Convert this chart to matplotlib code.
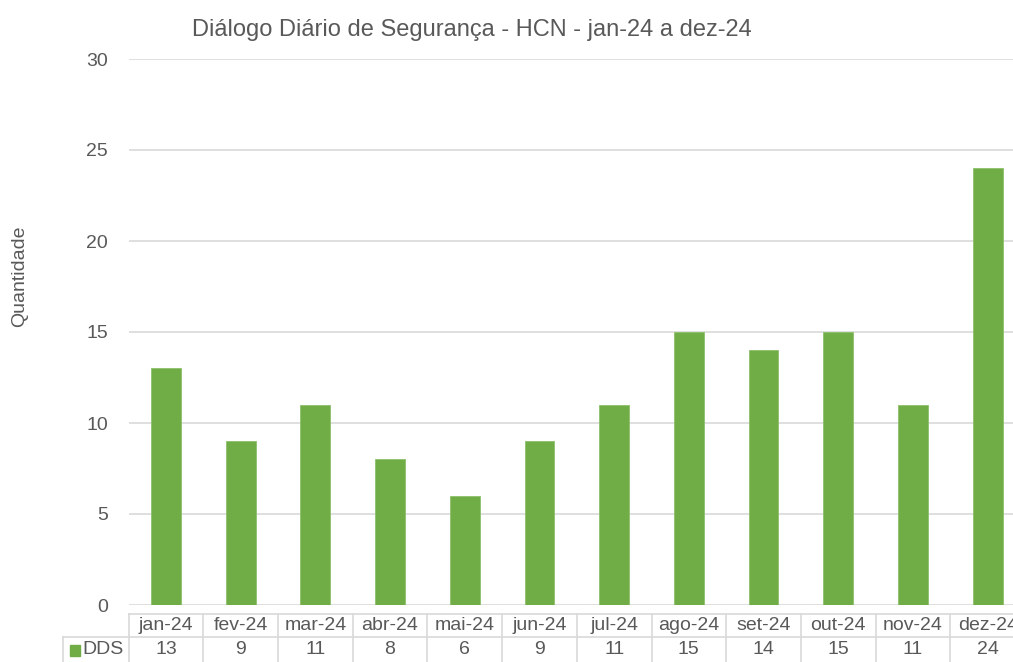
import matplotlib
matplotlib.use("Agg")
import matplotlib.pyplot as plt
from matplotlib.transforms import blended_transform_factory
from matplotlib.lines import Line2D
from matplotlib.patches import Rectangle

months = ["jan-24", "fev-24", "mar-24", "abr-24", "mai-24", "jun-24",
          "jul-24", "ago-24", "set-24", "out-24", "nov-24", "dez-24"]
dds = [13, 9, 11, 8, 6, 9, 11, 15, 14, 15, 11, 24]
series_name = "DDS"
title = "Diálogo Diário de Segurança - HCN - jan-24 a dez-24"
ylabel = "Quantidade"
yticks = [0, 5, 10, 15, 20, 25, 30]

plt.rcParams['font.family'] = ['Liberation Sans', 'DejaVu Sans']
TXT = "#595959"
GRID = "#d9d9d9"
GREEN = "#70ad47"
FS = 14

W, H = 1013, 662
fig = plt.figure(figsize=(W / 100, H / 100), dpi=100)

def fx(px):
    return px / W

def fy(py):
    return 1 - py / H

left, right, bottom, top = 128.6, 1025, 605, 59
ax = fig.add_axes([fx(left), fy(bottom), fx(right) - fx(left), fy(top) - fy(bottom)])

x = list(range(len(months)))
ax.bar(x, dds, width=0.4, color=GREEN, edgecolor="#8cc06a", linewidth=0.6, zorder=3)
ax.set_xlim(-0.5, len(months) - 0.5)
ax.set_ylim(0, 30)
ax.set_yticks(yticks)
ax.set_yticklabels([str(v) for v in yticks], color=TXT, fontsize=FS)
ax.tick_params(axis='y', length=0, pad=15)
ax.set_xticks([])
for s in ax.spines.values():
    s.set_visible(False)
ax.grid(axis='y', color=GRID, linewidth=1.2, zorder=0)
ax.set_axisbelow(True)

fig.text(fx(472), fy(30), title, ha='center', va='center', color=TXT, fontsize=17)
fig.text(fx(20), fy(276), ylabel, ha='center', va='center', rotation=90, color=TXT, fontsize=FS)

# data table below the axes
tr = blended_transform_factory(ax.transData, fig.transFigure)
trf = fig.transFigure
n = len(months)
y_top, y_mid, y_bot = fy(614), fy(637), fy(663)
lw = 1.2
ax.add_artist(Line2D([-0.5, n - 0.5], [y_top, y_top], transform=tr, color=GRID, lw=lw, clip_on=False))
ax.add_artist(Line2D([-0.5, n - 0.5], [y_mid, y_mid], transform=tr, color=GRID, lw=lw, clip_on=False))
ax.add_artist(Line2D([fx(63), fx(left)], [y_mid, y_mid], transform=trf, color=GRID, lw=lw, clip_on=False))
ax.add_artist(Line2D([fx(63), fx(63)], [y_mid, y_bot], transform=trf, color=GRID, lw=lw, clip_on=False))
for i in range(n + 1):
    xb = i - 0.5
    ax.add_artist(Line2D([xb, xb], [y_top, y_bot], transform=tr, color=GRID, lw=lw, clip_on=False))
for i, (m, v) in enumerate(zip(months, dds)):
    ax.text(i, fy(626), m, transform=tr, ha='center', va='center', color=TXT, fontsize=FS, clip_on=False)
    ax.text(i, fy(650), str(v), transform=tr, ha='center', va='center', color=TXT, fontsize=FS, clip_on=False)

fig.add_artist(Rectangle((fx(70), fy(656)), fx(10), fy(645) - fy(656), transform=trf, color=GREEN))
fig.text(fx(82), fy(650), series_name, ha='left', va='center', color=TXT, fontsize=FS)

fig.savefig("out.png", dpi=100)
